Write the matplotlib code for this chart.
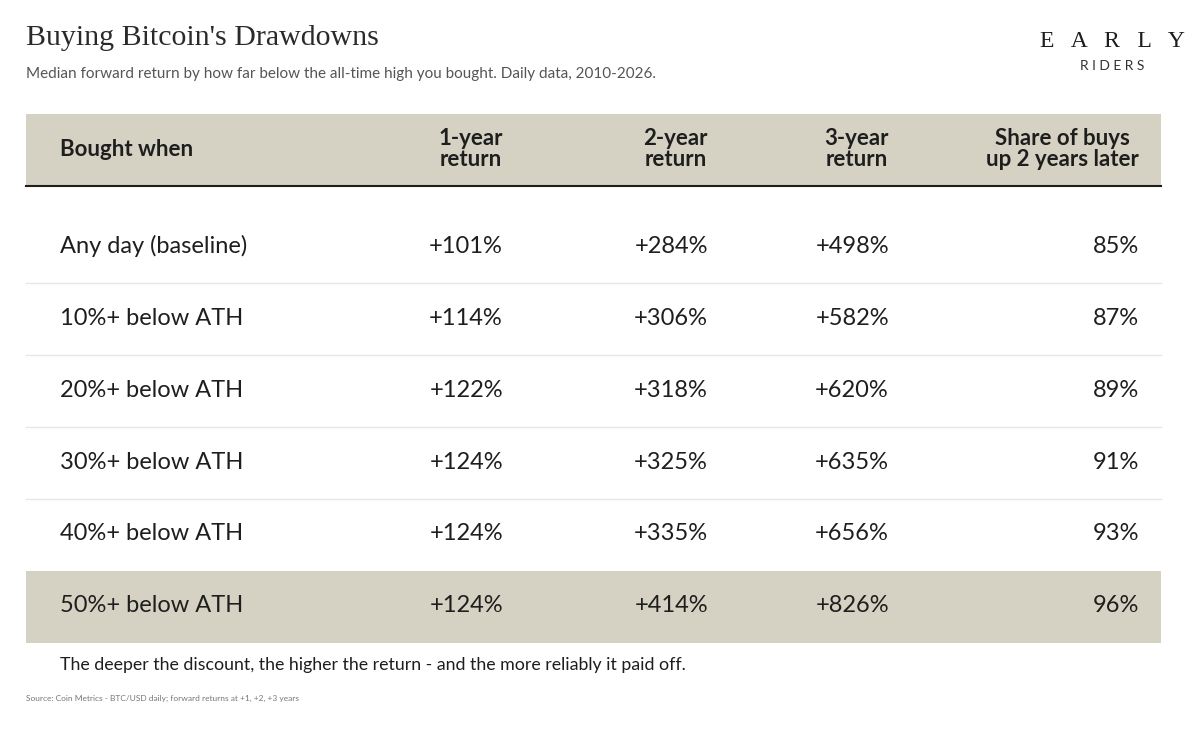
import matplotlib.pyplot as plt

labels = ["Any day (baseline)", "10%+ below ATH", "20%+ below ATH",
          "30%+ below ATH", "40%+ below ATH", "50%+ below ATH"]
ret_1y = ["+101%", "+114%", "+122%", "+124%", "+124%", "+124%"]
ret_2y = ["+284%", "+306%", "+318%", "+325%", "+335%", "+414%"]
ret_3y = ["+498%", "+582%", "+620%", "+635%", "+656%", "+826%"]
share_up = ["85%", "87%", "89%", "91%", "93%", "96%"]
headers = ["1-year\nreturn", "2-year\nreturn", "3-year\nreturn", "Share of buys\nup 2 years later"]

BEIGE = "#d6d2c3"
INK = "#1e1e1e"
SANS = "Lato"

fig = plt.figure(figsize=(12, 7.29), dpi=100)
ax = fig.add_axes([0, 0, 1, 1])
ax.set_xlim(0, 1200)
ax.set_ylim(729, 0)
ax.axis("off")

ax.text(26, 38, "Buying Bitcoin's Drawdowns", family="Liberation Serif", fontsize=21.5,
        color="#2a2a2a", va="center")
ax.text(26, 74, "Median forward return by how far below the all-time high you bought. Daily data, 2010-2026.",
        family=SANS, fontsize=11, color="#555555", va="center")
ax.text(1112, 41, "E   A   R   L   Y", family="Liberation Serif", fontsize=17, color=INK,
        ha="center", va="center")
ax.text(1112, 66, "R I D E R S", family=SANS, fontsize=10, color="#333333",
        ha="center", va="center")

# header band
ax.add_patch(plt.Rectangle((26, 114), 1135, 72, color=BEIGE, lw=0))
ax.plot([26, 1161], [186, 186], color=INK, lw=1.5)
ax.text(60, 149, "Bought when", family=SANS, fontsize=16, fontweight="bold",
        color=INK, va="center")
col_x = [503, 708, 889, 1139]
for x, h in zip(col_x, headers):
    ax.text(x, 149, h, family=SANS, fontsize=16, fontweight="bold", color=INK,
            ha="right", va="center", multialignment="center", linespacing=0.95)

row0, pitch = 246, 72
n = len(labels)
ax.add_patch(plt.Rectangle((26, row0 + (n - 1) * pitch - 35), 1135, 72, color=BEIGE, lw=0))
for i in range(n):
    y = row0 + i * pitch
    if i < n - 2:
        ax.plot([26, 1161], [y + 37, y + 37], color="#e6e6e6", lw=1)
    ax.text(60, y, labels[i], family=SANS, fontsize=17, color=INK, va="center")
    for x, col in zip(col_x, [ret_1y, ret_2y, ret_3y, share_up]):
        ax.text(x, y, col[i], family=SANS, fontsize=17, color=INK, ha="right", va="center")

ax.text(60, 665, "The deeper the discount, the higher the return - and the more reliably it paid off.",
        family=SANS, fontsize=12.8, color=INK, va="center")
ax.text(26, 698, "Source: Coin Metrics - BTC/USD daily; forward returns at +1, +2, +3 years",
        family=SANS, fontsize=6, color="#777777", va="center")

fig.savefig("out.png", dpi=100, facecolor="white")
